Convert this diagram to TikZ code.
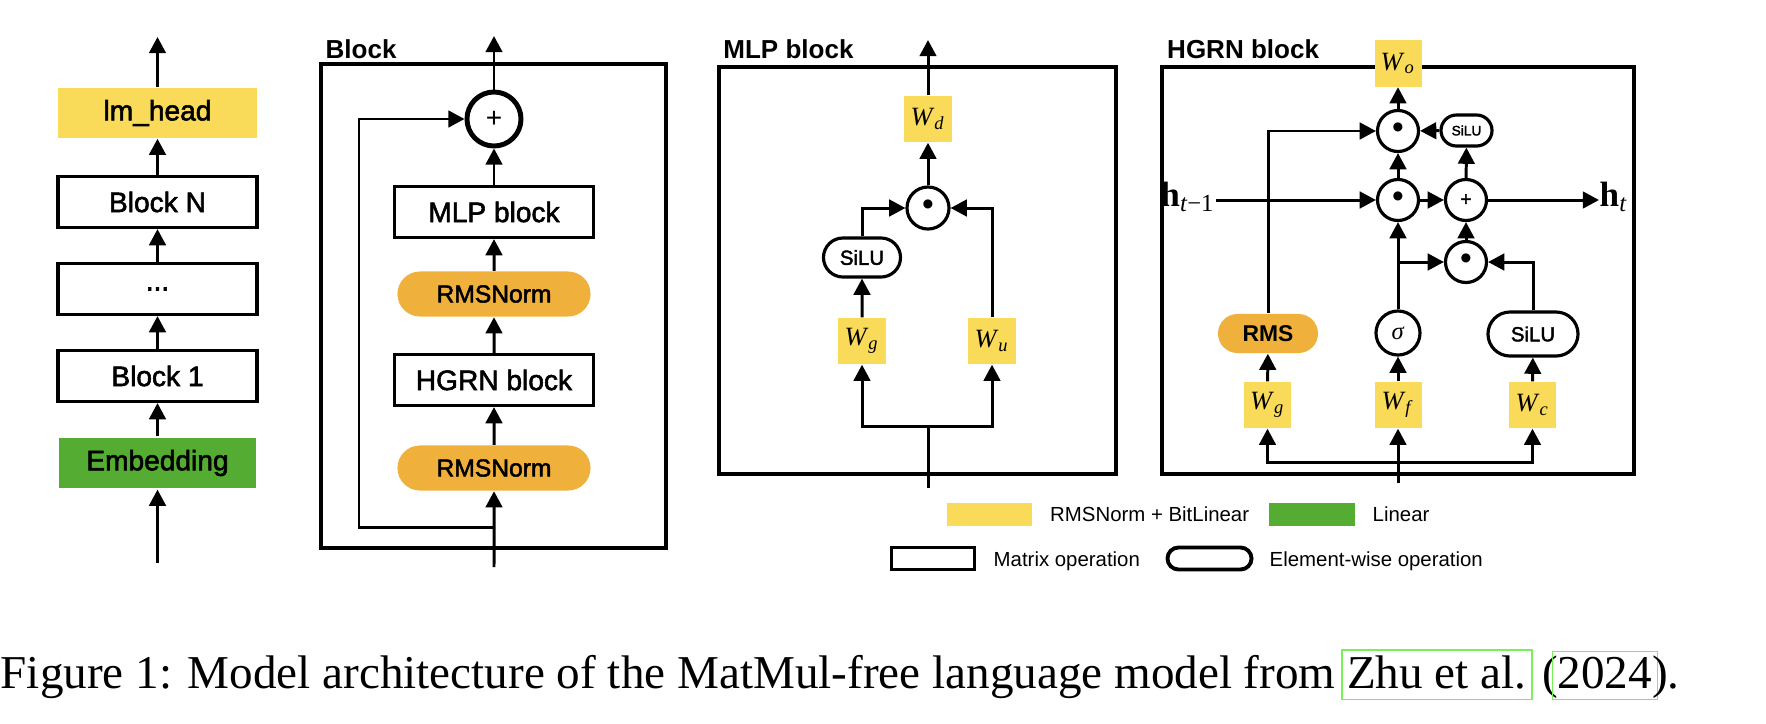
\documentclass[tikz,border=0pt]{standalone}
\usepackage{fontspec}
\setmainfont{Liberation Serif}
\setsansfont{Liberation Sans}
\newfontfamily\medsans{Liberation Sans}[FakeBold=2]
\usetikzlibrary{arrows.meta}
\usetikzlibrary{shapes.misc}
\definecolor{bitlin}{RGB}{249,218,89}
\definecolor{rmsorange}{RGB}{240,176,60}
\definecolor{embgreen}{RGB}{84,172,50}
\definecolor{citegreen}{RGB}{120,240,90}
\newcommand{\lbl}[1]{\fontsize{#1}{#1}\selectfont}
\newcommand{\wsub}[1]{\textit{W}\textsubscript{\textit{#1}}}
\newcommand{\linkbox}[1]{\leavevmode\rlap{\kern-1.7pt\textcolor{citegreen}{\setlength{\fboxsep}{1.3pt}\setlength{\fboxrule}{0.45pt}\fbox{\phantom{#1}\rule[-1.8pt]{0pt}{9.7pt}}}}#1}

\tikzset{
  flow/.style={line width=0.85pt, -{Triangle[length=4.6pt,width=4.7pt]}},
  wire/.style={line width=0.85pt},
  boxframe/.style={line width=1pt},
  matop/.style={draw, line width=0.9pt, fill=white, minimum width=1.99cm, minimum height=0.51cm, inner sep=0pt, font=\medsans\lbl{8}},
  bitlinear/.style={fill=bitlin, minimum width=0.47cm, minimum height=0.46cm, inner sep=0pt, font=\lbl{7.5}},
  rmsnorm/.style={rounded rectangle, fill=rmsorange, minimum width=1.93cm, minimum height=0.45cm, inner sep=0pt, font=\medsans\lbl{7}},
  ewop/.style={rounded rectangle, draw, line width=0.9pt, fill=white, inner sep=0pt, font=\medsans\lbl{5.8}},
  hadamard/.style={circle, draw, line width=0.9pt, fill=white, minimum size=0.41cm, inner sep=0pt, font=\sffamily\lbl{9.5}},
  addop/.style={circle, draw, line width=0.9pt, fill=white, minimum size=0.41cm, inner sep=0pt, font=\medsans\lbl{5.5}},
  blocktitle/.style={anchor=base west, inner sep=0pt, font=\sffamily\bfseries\lbl{7.4}},
  legtext/.style={anchor=base west, inner sep=0pt, font=\sffamily\lbl{5.8}},
}

\begin{document}
\begin{tikzpicture}[x=0.01cm, y=-0.01cm]
\useasboundingbox (0,0) rectangle (1766,724);

% model stack
\node[bitlinear, minimum width=1.98cm, minimum height=0.5cm, font=\medsans\lbl{8}] (head) at (157.5,113) {lm\_head};
\node[matop] (blkN) at (157.5,202) {Block N};
\node[matop] (dots) at (157.5,289) {...};
\node[matop] (blk1) at (157.5,376) {Block 1};
\node[matop, draw=none, fill=embgreen, minimum width=1.97cm, minimum height=0.5cm] (emb) at (157.5,463) {Embedding};
\coordinate (stackin) at (157.5,563);
\coordinate (stackout) at (157.5,37);
\foreach \a/\b in {stackin/emb, emb/blk1, blk1/dots, dots/blkN, blkN/head, head/stackout}
  \draw[flow] (\a) -- (\b);

% block
\draw[boxframe] (321,64) rectangle (666,548);
\node[blocktitle] (blocklbl) at (325,58) {Block};
\node[addop, minimum size=0.54cm, line width=1.4pt, font=\sffamily\lbl{8}] (res) at (494,119) {+};
\node[matop] (mlpbox) at (494,212) {MLP block};
\node[rmsnorm] (norm1) at (494,294) {RMSNorm};
\node[matop] (hgrnbox) at (494,380) {HGRN block};
\node[rmsnorm] (norm2) at (494,468) {RMSNorm};
\coordinate (blkin) at (494,567);
\coordinate (blksplit) at (494,527);
\coordinate (resbend) at (359,119);
\coordinate (blkout) at (494,36);
\foreach \a/\b in {blkin/norm2, norm2/hgrnbox, hgrnbox/norm1, norm1/mlpbox, mlpbox/res, res/blkout}
  \draw[flow] (\a) -- (\b);
\draw[flow] (blksplit) -| (resbend) -- (res);

% mlp block
\draw[boxframe] (719,67) rectangle (1116,474);
\node[blocktitle] (mlplbl) at (722.7,58) {MLP block};
\node[bitlinear] (wd) at (928,119) {\wsub{d}};
\node[hadamard, minimum size=0.42cm] (mlpmul) at (928,208) {\textbullet};
\node[ewop, minimum width=0.77cm, minimum height=0.39cm] (mlpsilu) at (862,257.5) {SiLU};
\node[bitlinear] (mwg) at (862,341) {\wsub{g}};
\node[bitlinear] (mwu) at (992,341) {\wsub{u}};
\coordinate (mlpin) at (928,488);
\coordinate (mlpsplit) at (928,426);
\coordinate (mlpout) at (928,40);
\draw[wire] (mlpin) -- (mlpsplit);
\draw[flow] (mlpsplit) -| (mwg);
\draw[flow] (mlpsplit) -| (mwu);
\draw[flow] (mwg) -- (mlpsilu);
\draw[flow] (mlpsilu) |- (mlpmul);
\draw[flow] (mwu) |- (mlpmul);
\draw[flow] (mlpmul) -- (wd);
\draw[flow] (wd) -- (mlpout);

% hgrn block
\draw[boxframe] (1162,67) rectangle (1634,474);
\node[blocktitle] (hgrnlbl) at (1166.5,58) {HGRN block};
\node[bitlinear] (wo) at (1398,63.5) {\wsub{o}};
\node[hadamard] (gatemul) at (1398,131) {\textbullet};
\node[ewop, minimum width=0.51cm, minimum height=0.31cm, font=\medsans\lbl{3.9}] (silus) at (1466.5,130.5) {SiLU};
\node[hadamard] (forgetmul) at (1398,200) {\textbullet};
\node[addop] (hadd) at (1466,200) {+};
\node[hadamard] (inmul) at (1466,262) {\textbullet};
\node[rmsnorm, minimum width=1.0cm, minimum height=0.39cm, font=\sffamily\bfseries\lbl{6.5}] (rms) at (1268,333.5) {RMS};
\node[circle, draw, line width=0.9pt, minimum size=0.44cm, inner sep=0pt, font=\lbl{7}] (sig) at (1398,333) {\textit{σ}};
\node[ewop, minimum width=0.9cm, minimum height=0.44cm] (silub) at (1533,334) {SiLU};
\node[bitlinear] (hwg) at (1267.5,405) {\wsub{g}};
\node[bitlinear] (hwf) at (1398,405) {\wsub{f}};
\node[bitlinear] (hwc) at (1532.5,405) {\wsub{c}};
\node[anchor=base east, inner sep=0pt, font=\lbl{10}] (hprev) at (1216,206) {\textbf{h}\textsubscript{\textit{t}−1}};
\node[anchor=base west, inner sep=0pt, font=\lbl{10}] (hnext) at (1599,206) {\textbf{h}\textsubscript{\textit{t}}};
\coordinate (hgrnin) at (1398,483);
\coordinate (hgrnsplit) at (1398,462);
\coordinate (sigsplit) at (1398,262);
\draw[flow] (hgrnin) -- (hwf);
\draw[flow] (hgrnsplit) -| (hwg);
\draw[flow] (hgrnsplit) -| (hwc);
\foreach \a/\b in {hwg/rms, hwf/sig, hwc/silub, sig/forgetmul, inmul/hadd, hadd/silus, silus/gatemul, forgetmul/gatemul, forgetmul/hadd, gatemul/wo}
  \draw[flow] (\a) -- (\b);
\draw[flow] (rms) |- (gatemul);
\draw[flow] (silub) |- (inmul);
\draw[flow] (sigsplit) -- (inmul);
\draw[flow] (hprev.east |- forgetmul) -- (forgetmul);
\draw[flow] (hadd) -- (hnext.west |- hadd);

% legend
\node[bitlinear, minimum width=0.85cm, minimum height=0.23cm] (legyel) at (989.5,514.5) {};
\node[legtext] (legyeltxt) at (1049.5,521.8) {RMSNorm + BitLinear};
\node[fill=embgreen, minimum width=0.85cm, minimum height=0.23cm, inner sep=0pt] (leggrn) at (1312,514.5) {};
\node[legtext] (leggrntxt) at (1372,521.8) {Linear};
\node[draw, line width=1.1pt, minimum width=0.83cm, minimum height=0.22cm, inner sep=0pt] (legmat) at (933,558.5) {};
\node[legtext] (legmattxt) at (993,566) {Matrix operation};
\node[rounded rectangle, draw, line width=1.1pt, minimum width=0.84cm, minimum height=0.22cm, inner sep=0pt] (legew) at (1209.5,558.5) {};
\node[legtext] (legewtxt) at (1269,566) {Element-wise operation};

% caption
\node[anchor=base west, inner sep=0pt, font=\lbl{13.4}] (caption) at (0,688)
  {Figure 1: Model architecture of the MatMul-free language model from \linkbox{Zhu et al.} (\linkbox{2024}).};
\end{tikzpicture}
\end{document}
